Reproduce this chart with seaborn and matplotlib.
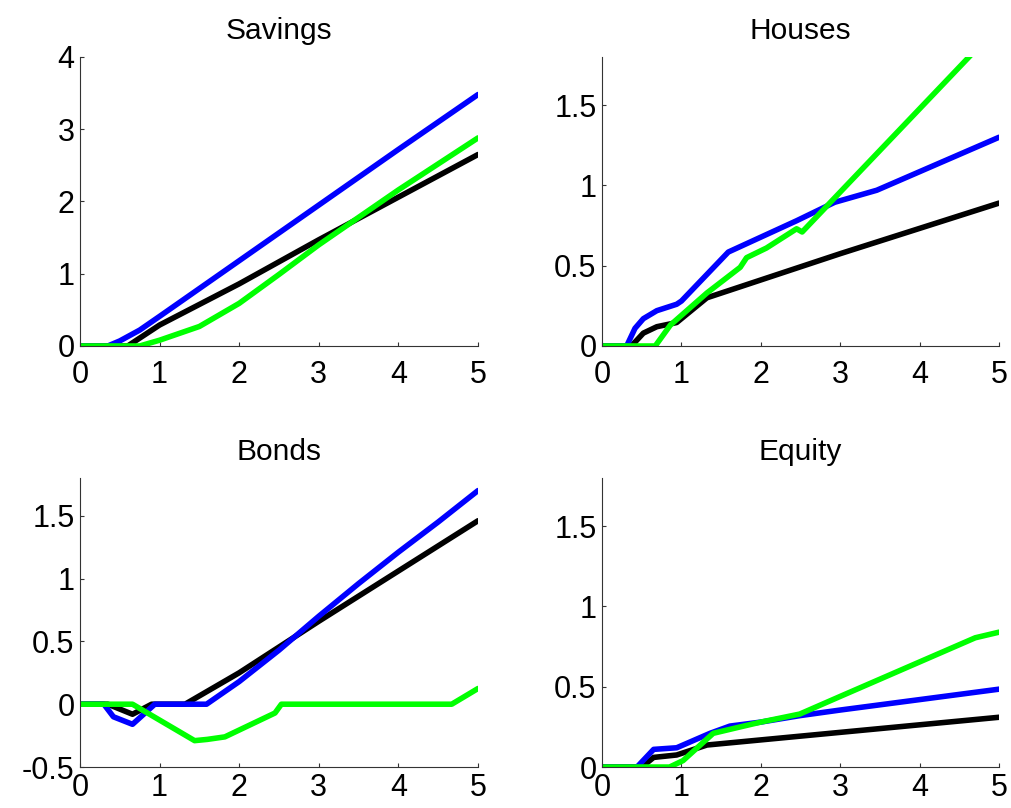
import numpy as np
import pandas as pd
import matplotlib
matplotlib.use("Agg")
import matplotlib.pyplot as plt
import seaborn as sns

# ---- data -------------------------------------------------------------
series_names = ["Baseline", "Alt 1", "Alt 2"]
series_colors = ["#000000", "#0000ff", "#00ff00"]

# Savings
sav_black_x = [0, 0.6, 1.0, 2.0, 3.0, 4.0, 5.0]
sav_black_y = [0, 0.0, 0.29, 0.86, 1.47, 2.06, 2.65]
sav_blue_x = [0, 0.35, 0.5, 0.75, 1.0, 2.0, 3.0, 4.0, 5.0]
sav_blue_y = [0, 0.0, 0.07, 0.22, 0.41, 1.18, 1.95, 2.72, 3.48]
sav_green_x = [0, 0.75, 1.0, 1.5, 2.0, 2.5, 3.0, 3.5, 4.0, 4.5, 5.0]
sav_green_y = [0, 0.0, 0.08, 0.27, 0.59, 0.99, 1.40, 1.78, 2.16, 2.52, 2.88]

# Houses
hou_black_x = [0, 0.37, 0.52, 0.69, 0.94, 1.32, 3.0, 5.0]
hou_black_y = [0, 0.0, 0.08, 0.12, 0.146, 0.30, 0.575, 0.89]
hou_blue_x = [0, 0.31, 0.415, 0.52, 0.69, 0.94, 1.0, 1.59, 2.45, 2.93, 3.46, 5.0]
hou_blue_y = [0, 0.0, 0.11, 0.17, 0.22, 0.26, 0.28, 0.585, 0.78, 0.895, 0.97, 1.30]
hou_green_x = [0, 0.67, 0.86, 1.32, 1.74, 1.82, 2.07, 2.45, 2.52, 4.66, 5.0]
hou_green_y = [0, 0.0, 0.13, 0.33, 0.49, 0.55, 0.61, 0.73, 0.71, 1.82, 1.99]

# Bonds
bon_black_x = [0, 0.35, 0.66, 0.9, 1.32, 2.0, 3.0, 4.0, 5.0]
bon_black_y = [0, 0.0, -0.08, 0.0, 0.0, 0.25, 0.66, 1.06, 1.46]
bon_blue_x = [0, 0.3, 0.42, 0.66, 0.94, 1.59, 2.0, 2.5, 3.0, 3.5, 4.0, 4.5, 5.0]
bon_blue_y = [0, 0.0, -0.10, -0.16, 0.0, 0.0, 0.18, 0.43, 0.70, 0.96, 1.21, 1.45, 1.70]
bon_green_x = [0, 0.66, 1.44, 1.6, 1.82, 2.45, 2.53, 4.67, 5.0]
bon_green_y = [0, 0.0, -0.29, -0.28, -0.26, -0.07, 0.0, 0.0, 0.125]

# Equity
equ_black_x = [0, 0.5, 0.65, 0.94, 1.32, 3.0, 5.0]
equ_black_y = [0, 0.0, 0.06, 0.075, 0.137, 0.216, 0.31]
equ_blue_x = [0, 0.44, 0.65, 0.94, 1.36, 1.61, 2.0, 2.49, 3.0, 5.0]
equ_blue_y = [0, 0.0, 0.11, 0.12, 0.21, 0.255, 0.28, 0.32, 0.355, 0.485]
equ_green_x = [0, 0.85, 1.02, 1.40, 1.74, 2.0, 2.49, 3.0, 4.70, 5.0]
equ_green_y = [0, 0.0, 0.04, 0.21, 0.25, 0.28, 0.33, 0.44, 0.805, 0.84]

panels = [
    ("Savings", [(sav_black_x, sav_black_y), (sav_blue_x, sav_blue_y), (sav_green_x, sav_green_y)],
     (0, 4), [0, 1, 2, 3, 4], ["0", "1", "2", "3", "4"]),
    ("Houses", [(hou_black_x, hou_black_y), (hou_blue_x, hou_blue_y), (hou_green_x, hou_green_y)],
     (0, 1.8), [0, 0.5, 1, 1.5], ["0", "0.5", "1", "1.5"]),
    ("Bonds", [(bon_black_x, bon_black_y), (bon_blue_x, bon_blue_y), (bon_green_x, bon_green_y)],
     (-0.5, 1.8), [-0.5, 0, 0.5, 1, 1.5], ["-0.5", "0", "0.5", "1", "1.5"]),
    ("Equity", [(equ_black_x, equ_black_y), (equ_blue_x, equ_blue_y), (equ_green_x, equ_green_y)],
     (0, 1.8), [0, 0.5, 1, 1.5], ["0", "0.5", "1", "1.5"]),
]
x_ticks = [0, 1, 2, 3, 4, 5]

# ---- style ------------------------------------------------------------
sns.set_theme(style="ticks")
plt.rcParams["font.family"] = ["Liberation Sans", "DejaVu Sans"]

fig = plt.figure(figsize=(10.11, 8.08), dpi=100)
positions = [
    [0.0791, 0.5718, 0.3937, 0.3577],
    [0.5955, 0.5718, 0.3927, 0.3577],
    [0.0791, 0.0507, 0.3937, 0.3577],
    [0.5955, 0.0507, 0.3927, 0.3577],
]
x_pads = [10, 10, 4.5, 4.5]

for pos, xpad, (title, lines, ylim, yticks, ylabels) in zip(positions, x_pads, panels):
    ax = fig.add_axes(pos)
    frames = []
    for name, (xs, ys) in zip(series_names, lines):
        frames.append(pd.DataFrame({"x": xs, "y": ys, "series": name}))
    df = pd.concat(frames, ignore_index=True)
    sns.lineplot(data=df, x="x", y="y", hue="series", hue_order=series_names,
                 palette=series_colors, estimator=None, sort=False,
                 linewidth=4.0, legend=False, ax=ax)
    for ln in ax.get_lines():
        ln.set_solid_capstyle("round")
        ln.set_solid_joinstyle("round")
    ax.set_xlim(0, 5)
    ax.set_ylim(*ylim)
    ax.set_xticks(x_ticks)
    ax.set_xticklabels([str(t) for t in x_ticks])
    ax.set_yticks(yticks)
    ax.set_yticklabels(ylabels)
    ax.set_xlabel("")
    ax.set_ylabel("")
    ax.set_title(title, fontsize=21.5, pad=13, color="black")
    sns.despine(ax=ax)
    for side in ("left", "bottom"):
        ax.spines[side].set_color("#333333")
        ax.spines[side].set_linewidth(0.8)
    ax.tick_params(axis="both", direction="in", length=3, width=0.8,
                   color="#333333", labelsize=22, labelcolor="black")
    ax.tick_params(axis="x", pad=xpad)
    ax.tick_params(axis="y", pad=4)

fig.savefig("out.png", dpi=100, facecolor="white")
